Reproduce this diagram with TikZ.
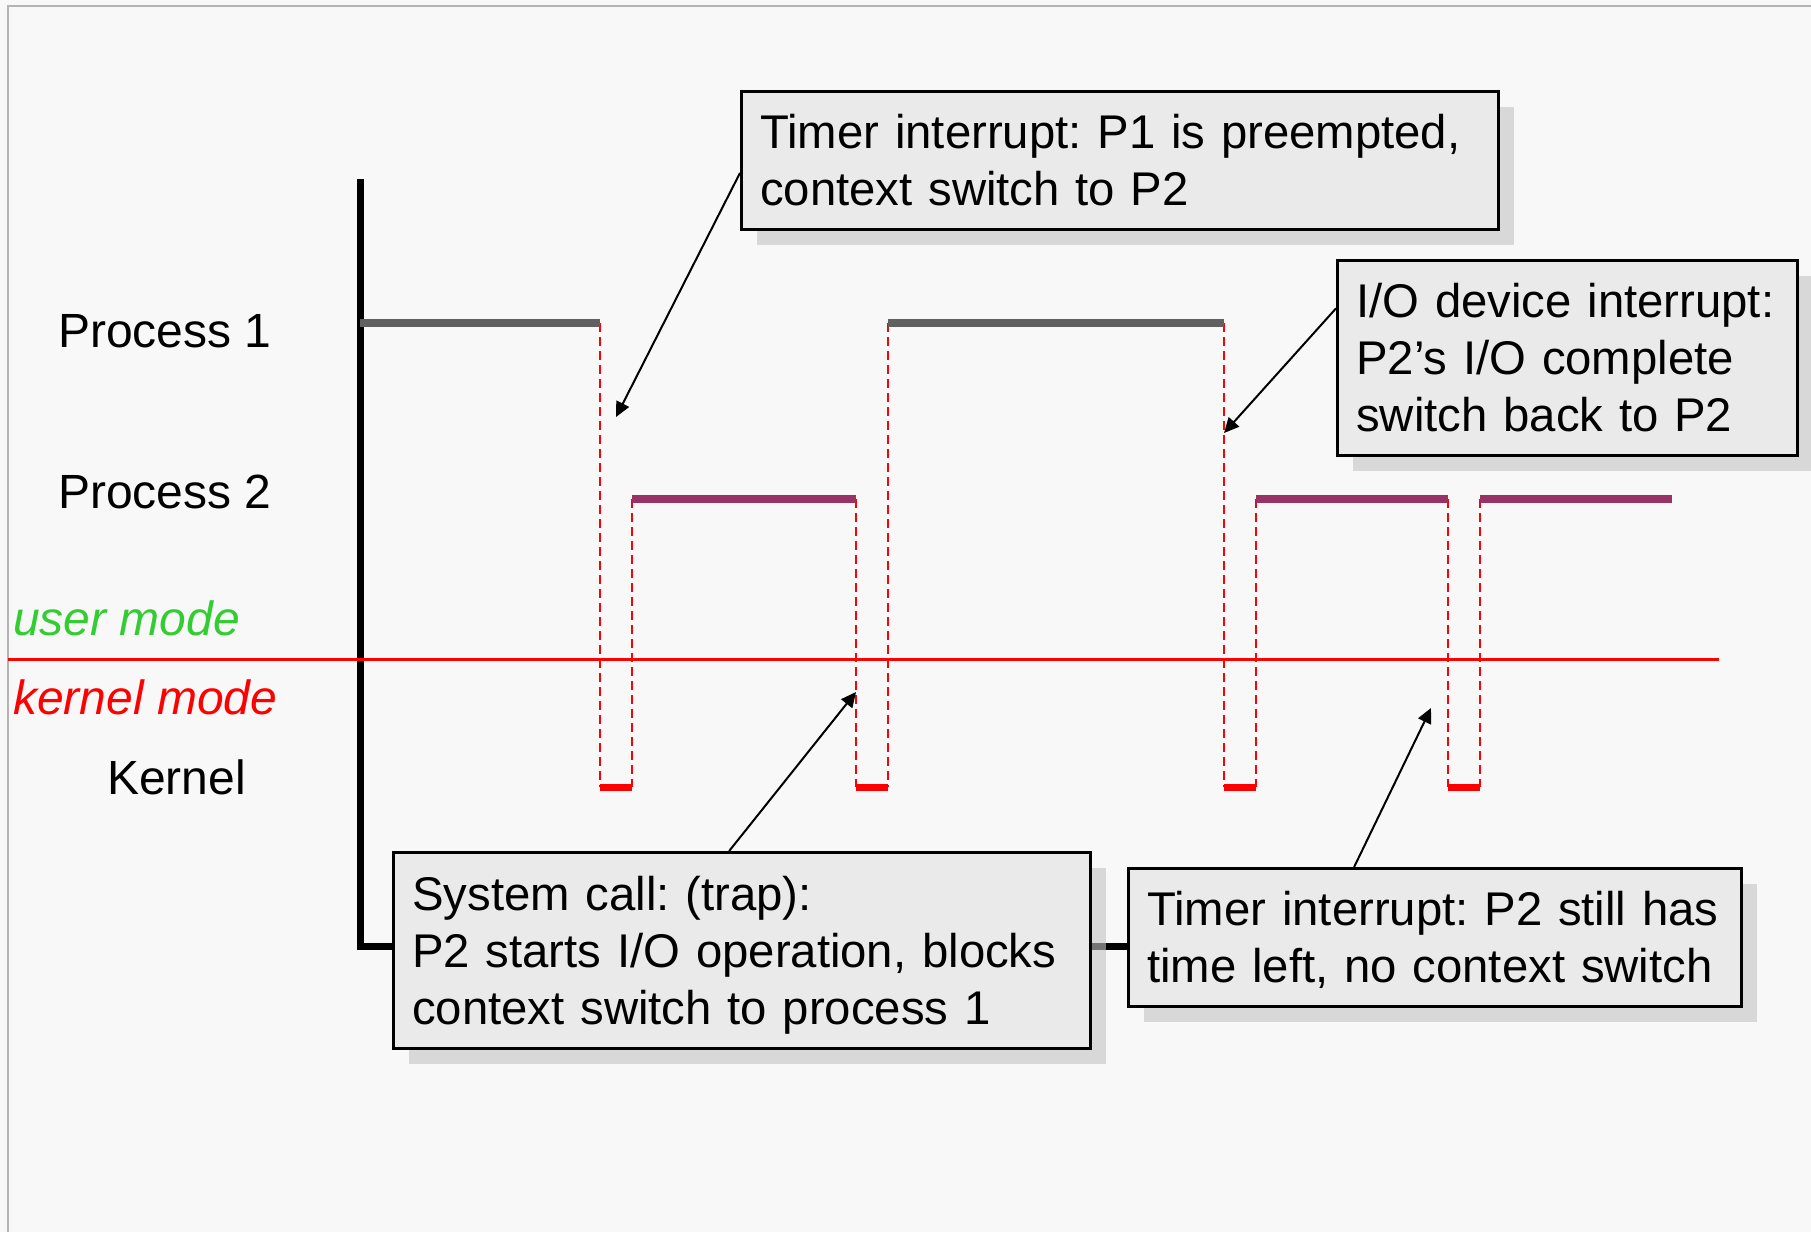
\documentclass[tikz,border=0pt]{standalone}
\usepackage{fontspec}
\setmainfont{Liberation Sans}
\usetikzlibrary{arrows.meta,shadows,calc}
\definecolor{bg}{HTML}{F8F8F8}
\definecolor{framec}{HTML}{B4B4B4}
\definecolor{pone}{HTML}{606060}
\definecolor{ptwo}{HTML}{993366}
\definecolor{umode}{HTML}{33CC33}
\definecolor{boxfill}{HTML}{EAEAEA}
\definecolor{shadowc}{HTML}{C4C4C4}
\begin{document}
\begin{tikzpicture}[x=1pt,y=-1pt,
  bigfont/.style={font=\fontsize{48}{57}\selectfont\frenchspacing},
  boxfont/.style={font=\fontsize{47.3}{57}\selectfont\frenchspacing},
  lbl/.style={bigfont, inner sep=0pt, anchor=base west},
  callout/.style={boxfont, draw=black, line width=2.5pt, fill=boxfill, align=left,
    anchor=north west, inner xsep=19pt, inner ysep=0pt,
    general shadow={fill=shadowc, fill opacity=0.6, shadow xshift=16pt, shadow yshift=-16pt}},
  pline/.style={line width=8pt},
  kline/.style={red, line width=7pt},
  dline/.style={red, line width=2pt, dash pattern=on 9pt off 5pt},
  pointer/.style={line width=2pt, -{Triangle[length=15pt,width=14pt]}}
]
% background and frame
\fill[bg] (0,0) rectangle (1811,1232);
\useasboundingbox (0,0) rectangle (1811,1232);
\draw[framec, line width=2.5pt] (8,1232) -- (8,6) -- (1811,6);

% time axis
\draw[black, line width=7pt] (360,179) -- (360,946) -- (1600,946);

% labels
\node[lbl] (lp1) at (58,347) {Process 1};
\node[lbl] (lp2) at (58,508) {Process 2};
\node[lbl, umode, font=\fontsize{48}{57}\selectfont\itshape] (lum) at (13,635) {user mode};
\node[lbl, red, font=\fontsize{48}{57}\selectfont\itshape] (lkm) at (13,714) {kernel mode};
\node[lbl] (lk) at (107,794) {Kernel};

% dashed transitions
\draw[dline] (600,323) -- (600,787);
\draw[dline] (632,499) -- (632,787);
\draw[dline] (856,499) -- (856,787);
\draw[dline] (888,323) -- (888,787);
\draw[dline] (1224,323) -- (1224,787);
\draw[dline] (1256,499) -- (1256,787);
\draw[dline] (1448,499) -- (1448,787);
\draw[dline] (1480,499) -- (1480,787);

% process 1 activity
\draw[pline, pone] (360,323) -- (600,323);
\draw[pline, pone] (888,323) -- (1224,323);
% process 2 activity
\draw[pline, ptwo] (632,499) -- (856,499);
\draw[pline, ptwo] (1256,499) -- (1448,499);
\draw[pline, ptwo] (1480,499) -- (1672,499);
% kernel activity
\draw[kline] (600,787) -- (632,787);
\draw[kline] (856,787) -- (888,787);
\draw[kline] (1224,787) -- (1256,787);
\draw[kline] (1448,787) -- (1480,787);

% user / kernel boundary
\draw[red, line width=3pt] (8,659) -- (1719,659);

% callouts
\node[callout, text width=719pt, minimum width=757pt, minimum height=138pt] (b1) at (740,90)
  {\mbox{Timer interrupt: P1 is preempted,}\\\mbox{context switch to P2}};
\node[callout, text width=422pt, minimum width=460pt, minimum height=195pt] (b2) at (1336,259)
  {\mbox{I/O device interrupt:}\\\mbox{P2’s I/O complete}\\\mbox{switch back to P2}};
\node[callout, text width=659pt, minimum width=697pt, minimum height=196pt] (b3) at (392,851)
  {\mbox{System call: (trap):}\\\mbox{P2 starts I/O operation, blocks}\\\smash{context switch to process 1}};
\node[callout, text width=575pt, minimum width=613pt, minimum height=138pt] (b4) at (1127,867)
  {\mbox{Timer interrupt: P2 still has}\\\smash{time left, no context switch}};

% pointer targets
\coordinate (t1) at (616,417);
\coordinate (t2) at (1224,433);
\coordinate (t3) at (856,692);
\coordinate (t4) at (1431,708);

\draw[pointer] ($(b1.north west)!0.59!(b1.south west)$) -- (t1);
\draw[pointer] ($(b2.north west)!0.25!(b2.south west)$) -- (t2);
\draw[pointer] ($(b3.north west)!0.482!(b3.north east)$) -- (t3);
\draw[pointer] ($(b4.north west)!0.369!(b4.north east)$) -- (t4);
\end{tikzpicture}
\end{document}
